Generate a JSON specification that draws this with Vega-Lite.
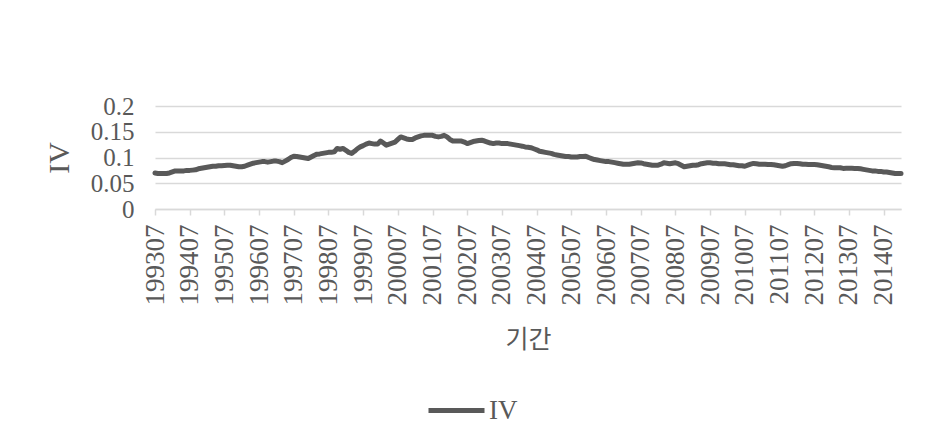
{
  "$schema": "https://vega.github.io/schema/vega-lite/v6.json",
  "autosize": {"type": "none"},
  "width": 746,
  "height": 103,
  "padding": {"left": 155, "top": 106, "right": 24, "bottom": 235},
  "background": "white",
  "datasets": {
    "iv": [
      {"t":"199307","v":0.070},{"t":"199308","v":0.069},{"t":"199309","v":0.069},{"t":"199310","v":0.069},{"t":"199311","v":0.069},{"t":"199312","v":0.070},
      {"t":"199401","v":0.072},{"t":"199402","v":0.074},{"t":"199403","v":0.074},{"t":"199404","v":0.074},{"t":"199405","v":0.074},{"t":"199406","v":0.075},{"t":"199407","v":0.075},{"t":"199408","v":0.0755},{"t":"199409","v":0.076},{"t":"199410","v":0.078},{"t":"199411","v":0.079},{"t":"199412","v":0.080},
      {"t":"199501","v":0.081},{"t":"199502","v":0.082},{"t":"199503","v":0.083},{"t":"199504","v":0.083},{"t":"199505","v":0.084},{"t":"199506","v":0.084},{"t":"199507","v":0.0845},{"t":"199508","v":0.085},{"t":"199509","v":0.085},{"t":"199510","v":0.084},{"t":"199511","v":0.083},{"t":"199512","v":0.082},
      {"t":"199601","v":0.082},{"t":"199602","v":0.083},{"t":"199603","v":0.085},{"t":"199604","v":0.087},{"t":"199605","v":0.089},{"t":"199606","v":0.090},{"t":"199607","v":0.091},{"t":"199608","v":0.092},{"t":"199609","v":0.092},{"t":"199610","v":0.091},{"t":"199611","v":0.092},{"t":"199612","v":0.093},
      {"t":"199701","v":0.093},{"t":"199702","v":0.092},{"t":"199703","v":0.090},{"t":"199704","v":0.093},{"t":"199705","v":0.096},{"t":"199706","v":0.100},{"t":"199707","v":0.1026},{"t":"199708","v":0.102},{"t":"199709","v":0.101},{"t":"199710","v":0.100},{"t":"199711","v":0.099},{"t":"199712","v":0.098},
      {"t":"199801","v":0.101},{"t":"199802","v":0.104},{"t":"199803","v":0.1065},{"t":"199804","v":0.107},{"t":"199805","v":0.108},{"t":"199806","v":0.109},{"t":"199807","v":0.110},{"t":"199808","v":0.110},{"t":"199809","v":0.111},{"t":"199810","v":0.1175},{"t":"199811","v":0.116},{"t":"199812","v":0.1175},
      {"t":"199901","v":0.114},{"t":"199902","v":0.110},{"t":"199903","v":0.108},{"t":"199904","v":0.112},{"t":"199905","v":0.117},{"t":"199906","v":0.1206},{"t":"199907","v":0.123},{"t":"199908","v":0.126},{"t":"199909","v":0.128},{"t":"199910","v":0.127},{"t":"199911","v":0.126},{"t":"199912","v":0.126},
      {"t":"200001","v":0.132},{"t":"200002","v":0.128},{"t":"200003","v":0.124},{"t":"200004","v":0.126},{"t":"200005","v":0.128},{"t":"200006","v":0.130},{"t":"200007","v":0.135},{"t":"200008","v":0.140},{"t":"200009","v":0.138},{"t":"200010","v":0.136},{"t":"200011","v":0.135},{"t":"200012","v":0.135},
      {"t":"200101","v":0.138},{"t":"200102","v":0.140},{"t":"200103","v":0.142},{"t":"200104","v":0.143},{"t":"200105","v":0.143},{"t":"200106","v":0.143},{"t":"200107","v":0.143},{"t":"200108","v":0.141},{"t":"200109","v":0.140},{"t":"200110","v":0.141},{"t":"200111","v":0.143},{"t":"200112","v":0.140},
      {"t":"200201","v":0.135},{"t":"200202","v":0.132},{"t":"200203","v":0.132},{"t":"200204","v":0.132},{"t":"200205","v":0.132},{"t":"200206","v":0.130},{"t":"200207","v":0.127},{"t":"200208","v":0.129},{"t":"200209","v":0.131},{"t":"200210","v":0.132},{"t":"200211","v":0.133},{"t":"200212","v":0.1335},
      {"t":"200301","v":0.132},{"t":"200302","v":0.130},{"t":"200303","v":0.128},{"t":"200304","v":0.127},{"t":"200305","v":0.128},{"t":"200306","v":0.128},{"t":"200307","v":0.127},{"t":"200308","v":0.127},{"t":"200309","v":0.127},{"t":"200310","v":0.126},{"t":"200311","v":0.125},{"t":"200312","v":0.124},
      {"t":"200401","v":0.123},{"t":"200402","v":0.122},{"t":"200403","v":0.1206},{"t":"200404","v":0.120},{"t":"200405","v":0.119},{"t":"200406","v":0.117},{"t":"200407","v":0.115},{"t":"200408","v":0.112},{"t":"200409","v":0.111},{"t":"200410","v":0.110},{"t":"200411","v":0.109},{"t":"200412","v":0.108},
      {"t":"200501","v":0.106},{"t":"200502","v":0.105},{"t":"200503","v":0.104},{"t":"200504","v":0.103},{"t":"200505","v":0.102},{"t":"200506","v":0.102},{"t":"200507","v":0.101},{"t":"200508","v":0.101},{"t":"200509","v":0.101},{"t":"200510","v":0.102},{"t":"200511","v":0.102},{"t":"200512","v":0.1026},
      {"t":"200601","v":0.100},{"t":"200602","v":0.098},{"t":"200603","v":0.096},{"t":"200604","v":0.095},{"t":"200605","v":0.094},{"t":"200606","v":0.093},{"t":"200607","v":0.092},{"t":"200608","v":0.092},{"t":"200609","v":0.091},{"t":"200610","v":0.090},{"t":"200611","v":0.089},{"t":"200612","v":0.088},
      {"t":"200701","v":0.087},{"t":"200702","v":0.087},{"t":"200703","v":0.087},{"t":"200704","v":0.088},{"t":"200705","v":0.089},{"t":"200706","v":0.0897},{"t":"200707","v":0.0895},{"t":"200708","v":0.088},{"t":"200709","v":0.087},{"t":"200710","v":0.086},{"t":"200711","v":0.085},{"t":"200712","v":0.085},
      {"t":"200801","v":0.085},{"t":"200802","v":0.087},{"t":"200803","v":0.0897},{"t":"200804","v":0.089},{"t":"200805","v":0.088},{"t":"200806","v":0.089},{"t":"200807","v":0.0897},{"t":"200808","v":0.088},{"t":"200809","v":0.085},{"t":"200810","v":0.082},{"t":"200811","v":0.083},{"t":"200812","v":0.084},
      {"t":"200901","v":0.085},{"t":"200902","v":0.085},{"t":"200903","v":0.086},{"t":"200904","v":0.088},{"t":"200905","v":0.089},{"t":"200906","v":0.0897},{"t":"200907","v":0.0897},{"t":"200908","v":0.089},{"t":"200909","v":0.089},{"t":"200910","v":0.088},{"t":"200911","v":0.088},{"t":"200912","v":0.0877},
      {"t":"201001","v":0.087},{"t":"201002","v":0.086},{"t":"201003","v":0.086},{"t":"201004","v":0.085},{"t":"201005","v":0.084},{"t":"201006","v":0.084},{"t":"201007","v":0.083},{"t":"201008","v":0.085},{"t":"201009","v":0.087},{"t":"201010","v":0.0885},{"t":"201011","v":0.088},{"t":"201012","v":0.087},
      {"t":"201101","v":0.087},{"t":"201102","v":0.087},{"t":"201103","v":0.0865},{"t":"201104","v":0.0865},{"t":"201105","v":0.086},{"t":"201106","v":0.085},{"t":"201107","v":0.084},{"t":"201108","v":0.083},{"t":"201109","v":0.084},{"t":"201110","v":0.086},{"t":"201111","v":0.088},{"t":"201112","v":0.0885},
      {"t":"201201","v":0.0885},{"t":"201202","v":0.088},{"t":"201203","v":0.087},{"t":"201204","v":0.087},{"t":"201205","v":0.0865},{"t":"201206","v":0.0865},{"t":"201207","v":0.0865},{"t":"201208","v":0.086},{"t":"201209","v":0.085},{"t":"201210","v":0.084},{"t":"201211","v":0.083},{"t":"201212","v":0.082},
      {"t":"201301","v":0.0807},{"t":"201302","v":0.080},{"t":"201303","v":0.080},{"t":"201304","v":0.080},{"t":"201305","v":0.0788},{"t":"201306","v":0.079},{"t":"201307","v":0.079},{"t":"201308","v":0.079},{"t":"201309","v":0.0788},{"t":"201310","v":0.0788},{"t":"201311","v":0.078},{"t":"201312","v":0.077},
      {"t":"201401","v":0.076},{"t":"201402","v":0.075},{"t":"201403","v":0.074},{"t":"201404","v":0.074},{"t":"201405","v":0.073},{"t":"201406","v":0.073},{"t":"201407","v":0.072},{"t":"201408","v":0.072},{"t":"201409","v":0.071},{"t":"201410","v":0.070},{"t":"201411","v":0.069},{"t":"201412","v":0.069},
      {"t":"201501","v":0.069}
    ]
  },
  "data": {"name": "iv"},
  "mark": {"type": "line", "strokeWidth": 5, "strokeCap": "round", "strokeJoin": "round"},
  "encoding": {
    "x": {
      "field": "t",
      "type": "ordinal",
      "scale": {"type": "point", "padding": 0},
      "axis": {
        "title": "기간",
        "titleFont": "Noto Sans CJK KR",
        "titleFontSize": 25,
        "titleFontWeight": "normal",
        "titleColor": "#595959",
        "titlePadding": 22,
        "values": ["199307","199407","199507","199607","199707","199807","199907","200007","200107","200207","200307","200407","200507","200607","200707","200807","200907","201007","201107","201207","201307","201407"],
        "labelAngle": -90,
        "labelAlign": "right",
        "labelBaseline": "middle",
        "labelFont": "Liberation Serif",
        "labelFontSize": 27,
        "labelColor": "#595959",
        "labelPadding": 9,
        "labelOverlap": false,
        "tickSize": 6,
        "tickColor": "#d9d9d9",
        "tickWidth": 1.5,
        "domainColor": "#d9d9d9",
        "domainWidth": 1.5,
        "grid": false
      }
    },
    "y": {
      "field": "v",
      "type": "quantitative",
      "scale": {"domain": [0, 0.2], "nice": false},
      "axis": {
        "title": "IV",
        "titleFont": "Liberation Serif",
        "titleFontSize": 30,
        "titleFontWeight": "normal",
        "titleColor": "#595959",
        "titlePadding": 16,
        "values": [0, 0.05, 0.1, 0.15, 0.2],
        "format": "~g",
        "labelFont": "Liberation Serif",
        "labelFontSize": 25,
        "labelColor": "#595959",
        "labelPadding": 21,
        "labelOverlap": false,
        "labelBound": false,
        "ticks": false,
        "domain": false,
        "grid": true,
        "gridColor": "#d9d9d9",
        "gridWidth": 1.5
      }
    },
    "color": {
      "datum": "IV",
      "type": "nominal",
      "scale": {"range": ["#595959"]},
      "legend": {
        "title": null,
        "orient": "none",
        "legendX": 271,
        "legendY": 274,
        "symbolType": "stroke",
        "symbolSize": 3136,
        "symbolStrokeWidth": 5,
        "labelFont": "Liberation Serif",
        "labelFontSize": 27,
        "labelColor": "#595959",
        "labelOffset": 2,
        "padding": 0
      }
    }
  },
  "config": {"view": {"stroke": null}}
}
